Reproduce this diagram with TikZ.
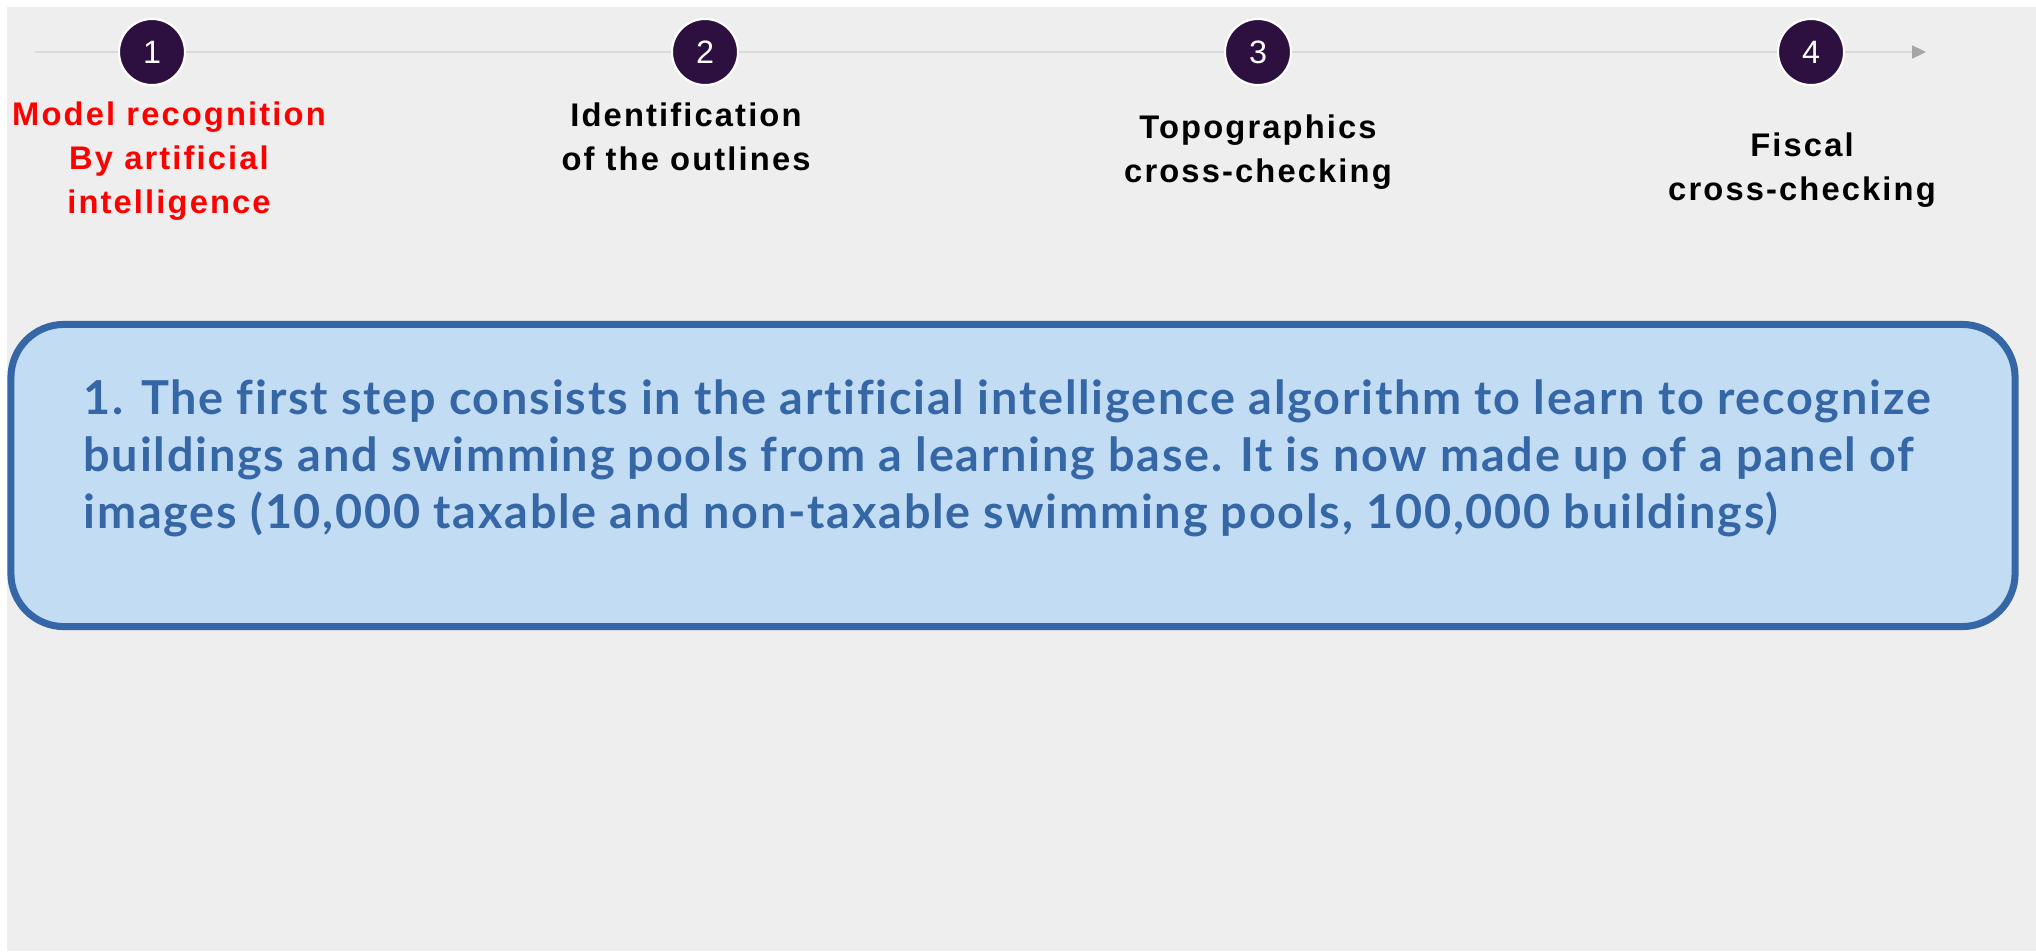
\documentclass[tikz,border=0pt]{standalone}
\usepackage{fontspec}
\setmainfont{Liberation Sans}
\newfontfamily\steplabelfont[LetterSpace=6.5]{Liberation Sans}
\newfontfamily\panelfont[LetterSpace=3.8, Ligatures=NoCommon]{Lato}
\usetikzlibrary{arrows.meta}
\definecolor{bggray}{HTML}{EEEEEE}
\definecolor{stepfill}{HTML}{2E1040}
\definecolor{linegray}{HTML}{D9D9D9}
\definecolor{tipgray}{HTML}{A6A6A6}
\definecolor{panelfill}{HTML}{C2DCF4}
\definecolor{panelblue}{HTML}{3566A5}

\begin{document}
\begin{tikzpicture}[x=0.01cm, y=-0.01cm,
    stepdot/.style={shape=circle, fill=stepfill, draw=white, line width=0.6pt, minimum size=0.66cm, inner sep=0pt, text=white, font=\fontsize{9.2}{11}\selectfont},
    steplabel/.style={align=center, anchor=base, inner sep=0pt, font=\steplabelfont\bfseries\fontsize{9.3}{12.5}\selectfont},
    panel/.style={shape=rectangle, rounded corners=0.53cm, fill=panelfill, draw=panelblue, line width=2pt, minimum width=20.03cm, minimum height=3.02cm},
    paneltext/.style={align=left, anchor=base west, inner sep=0pt, text=panelblue, font=\panelfont\bfseries\fontsize{13.3}{16.1}\selectfont}]

            \useasboundingbox (0,0) rectangle (2036,951);
            \fill[bggray] (7,7) rectangle (2036,951);

            \coordinate (T0) at (35,52);
            \coordinate (T5) at (1926,52);

            \node[stepdot] (S1) at (152,52) {1};
            \node[stepdot] (S2) at (705,52) {2};
            \node[stepdot] (S3) at (1258,52) {3};
            \node[stepdot] (S4) at (1811,52) {4};

            \path[draw=linegray, line width=0.6pt] (T0) -- (S1);
            \path[draw=linegray, line width=0.6pt] (S1) -- (S2);
            \path[draw=linegray, line width=0.6pt] (S2) -- (S3);
            \path[draw=linegray, line width=0.6pt] (S3) -- (S4);
            \path[draw=linegray, line width=0.6pt, -{Triangle[length=0.14cm, width=0.13cm, color=tipgray]}] (S4) -- (T5);

            \node[steplabel, text=red] (L1) at (169,213) {Model recognition\\By artificial\\intelligence};
            \node[steplabel] (L2) at (686,170) {Identification\\of the outlines};
            \node[steplabel] (L3) at (1258,182) {Topographics\\cross-checking};
            \node[steplabel] (L4) at (1802,200) {Fiscal\\cross-checking};

            \node[panel] (P) at (1013,475.5) {};
            \node[paneltext] (PT) at (83,528) {1. The first step consists in the artificial intelligence algorithm to learn to recognize\\buildings and swimming pools from a learning base. It is now made up of a panel of\\images (10,000 taxable and non-taxable swimming pools, 100,000 buildings)};
        \end{tikzpicture}
\end{document}
